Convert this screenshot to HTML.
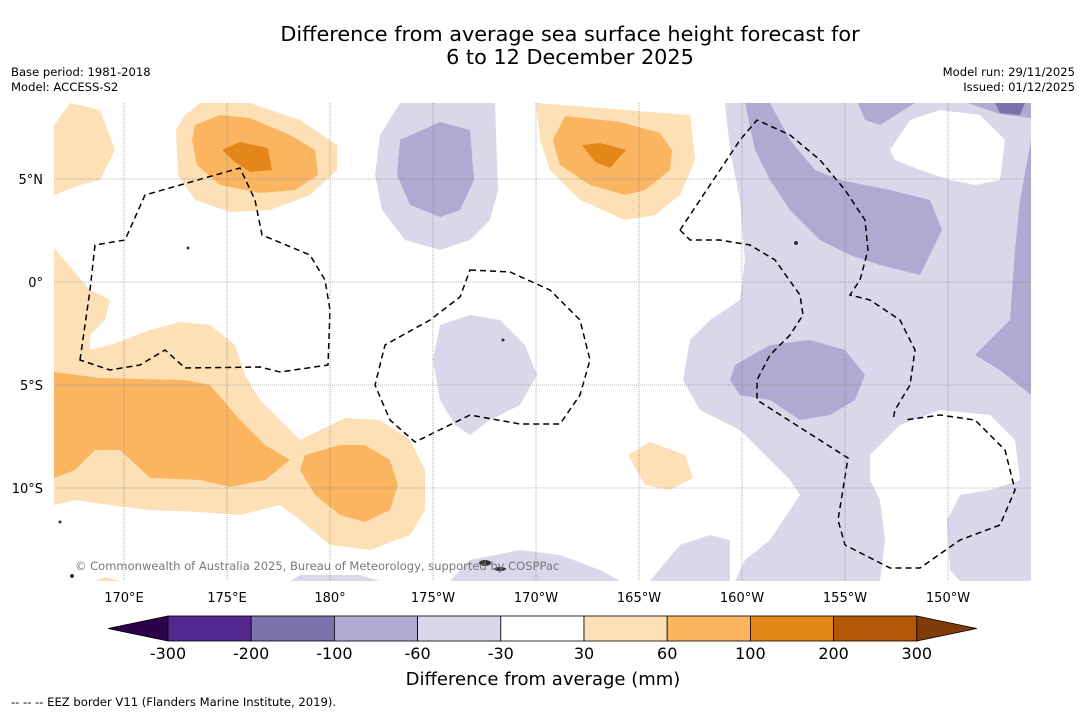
<!DOCTYPE html>
<html><head><meta charset="utf-8"><style>
body{margin:0;background:#fff;font-family:"Liberation Sans","DejaVu Sans",sans-serif}
svg text{font-family:"DejaVu Sans","Liberation Sans",sans-serif}
</style></head><body>
<svg id="c" width="1085" height="713" viewBox="0 0 1085 713">
<rect width="1085" height="713" fill="#fff"/>
<text x="570" y="41" font-size="20.8" text-anchor="middle">Difference from average sea surface height forecast for</text>
<text x="570" y="64" font-size="20.8" text-anchor="middle">6 to 12 December 2025</text>
<text x="11" y="76" font-size="11.6">Base period: 1981-2018</text>
<text x="11" y="91" font-size="11.6">Model: ACCESS-S2</text>
<text x="1075" y="76" font-size="11.6" text-anchor="end">Model run: 29/11/2025</text>
<text x="1075" y="91" font-size="11.6" text-anchor="end">Issued: 01/12/2025</text>
<g id="map">
<clipPath id="cp"><rect x="54" y="103" width="977" height="478"/></clipPath>
<g clip-path="url(#cp)">
<g fill="#d8d8ea">
<path d="M400,103 L495,103 L498,190 L490,220 L470,240 L440,250 L405,240 L382,210 L375,175 L380,135Z"/>
<path d="M440,325 L470,315 L500,320 L525,345 L537,375 L520,405 L490,420 L470,435 L455,425 L440,400 L433,360Z"/>
<path d="M725,103 L1031,103 L1031,581 L735,581 L745,560 L770,540 L790,510 L800,495 L790,480 L770,460 L740,430 L700,410 L683,380 L690,340 L710,320 L740,300 L745,260 L740,200 L730,150Z"/>
<path d="M650,581 L680,545 L710,535 L730,540 L730,581Z"/>
<path d="M290,581 L300,575 L360,575 L380,581Z"/>
<path d="M450,581 L470,560 L520,550 L560,555 L600,570 L620,581Z"/>
</g>
<g fill="#fff">
<path d="M890,150 L910,120 L940,110 L980,115 L1005,140 L1000,180 L975,185 L950,180 L920,170 L895,160Z"/>
<path d="M870,455 L900,425 L940,410 L990,415 L1015,440 L1020,480 L990,490 L960,495 L947,520 L950,570 L960,581 L880,581 L885,540 L880,500 L870,480Z"/>
</g>
<g fill="#b0aad2">
<path d="M400,140 L440,122 L470,130 L474,180 L460,210 L440,217 L410,205 L397,175Z"/>
<path d="M745,103 L770,103 L790,140 L815,170 L840,180 L890,190 L930,200 L942,230 L920,275 L880,265 L850,255 L820,240 L790,210 L770,180 L755,150Z"/>
<path d="M858,103 L915,103 L880,125 L865,120Z"/>
<path d="M1031,140 L1020,200 L1015,250 L1010,320 L990,340 L975,355 L1000,370 L1031,395Z"/>
<path d="M968,103 L1031,103 L1031,118 L1000,114Z"/>
<path d="M735,365 L770,345 L810,340 L845,350 L865,375 L855,400 L830,415 L800,420 L770,400 L740,395 L730,380Z"/>
</g>
<path d="M995,103 L1025,103 L1020,115 L1000,113Z" fill="#7d72ab"/>
<g fill="#fde0b6">
<path d="M54,195 L54,125 L70,103 L100,110 L115,150 L100,180 L80,185Z"/>
<path d="M200,103 L250,103 L300,120 L337,145 L337,170 L310,195 L270,210 L230,212 L195,200 L178,175 L176,130 L185,115Z"/>
<path d="M54,248 L90,290 L110,300 L105,320 L90,335 L90,350 L110,345 L150,330 L180,322 L210,325 L235,345 L245,375 L260,400 L300,440 L345,418 L380,420 L410,440 L425,470 L425,510 L410,535 L370,550 L330,545 L300,520 L280,505 L240,515 L200,512 L150,510 L110,505 L75,500 L54,505Z"/>
<path d="M536,103 L690,115 L695,160 L680,195 L655,215 L625,220 L580,200 L550,170 L540,140Z"/>
<path d="M628,455 L650,442 L685,455 L693,478 L670,490 L645,485Z"/>
<path d="M95,581 L105,577 L120,581Z"/>
</g>
<g fill="#fbb560">
<path d="M195,125 L220,115 L250,118 L290,135 L315,150 L318,175 L295,190 L260,193 L220,185 L197,165 L192,140Z"/>
<path d="M54,372 L100,378 L185,380 L210,385 L240,420 L265,445 L290,460 L265,480 L230,487 L200,480 L150,478 L120,450 L95,450 L75,470 L54,478Z"/>
<path d="M305,455 L340,445 L365,445 L390,460 L398,485 L390,510 L365,522 L340,515 L315,495 L300,470Z"/>
<path d="M565,116 L620,122 L660,133 L672,150 L670,170 L645,190 L625,195 L590,185 L560,165 L553,140Z"/>
</g>
<g fill="#e5861a">
<path d="M222,150 L240,142 L268,148 L272,170 L250,172 L235,162Z"/>
<path d="M582,145 L600,143 L626,150 L610,168 L595,162Z"/>
</g>
<g fill="none" stroke="#000" stroke-width="1.5" stroke-dasharray="6,4">
<path d="M80,360 L90,290 L95,245 L125,240 L145,195 L240,168 L255,200 L262,235 L310,255 L325,280 L330,310 L328,365 L280,372 L260,367 L185,368 L165,350 L140,365 L110,370 Z"/>
<path d="M470,270 L510,272 L550,290 L580,320 L590,360 L580,395 L560,424 L520,424 L470,415 L415,442 L390,420 L375,385 L385,345 L430,320 L460,297 Z"/>
<path d="M680,230 L700,200 L720,170 L740,140 L757,120 L790,135 L820,160 L845,190 L865,220 L868,250 L860,280 L850,295 L870,300 L900,320 L915,350 L910,385 L895,410 L893,420"/>
<path d="M680,230 L690,240 L720,240 L750,245 L775,260 L800,295 L803,315 L790,335 L770,355 L757,380 L757,400 L848,458 L838,520 L845,545 L890,568 L920,568 L960,540 L1000,525 L1015,490 L1005,450 L975,420 L940,415 L905,420"/>
</g>
<g fill="#333">
<ellipse cx="485" cy="563" rx="6" ry="3"/><ellipse cx="500" cy="569" rx="6" ry="2"/><circle cx="72" cy="576" r="2"/><circle cx="60" cy="522" r="1.5"/><circle cx="796" cy="243" r="2"/><circle cx="188" cy="248" r="1.5"/><circle cx="503" cy="340" r="1.5"/>
</g>
</g>
<g id="grid" stroke="#777" stroke-width="0.6" stroke-dasharray="1,1"></g>
<text x="75" y="570" font-size="11.5" fill="#777">© Commonwealth of Australia 2025, Bureau of Meteorology, supported by COSPPac</text>
</g>
<g id="axes"></g>
<g id="cbar"></g>
<text x="543" y="685" font-size="18" text-anchor="middle">Difference from average (mm)</text>
<text x="11" y="706" font-size="11.6">--  --  -- EEZ border V11 (Flanders Marine Institute, 2019).</text>
</svg>
<script>
const lonTicks=[170,175,180,185,190,195,200,205,210];
const lonLabels=["170°E","175°E","180°","175°W","170°W","165°W","160°W","155°W","150°W"];
const latTicks=[5,0,-5,-10];
const latLabels=["5°N","0°","5°S","10°S"];
const levels=[-300,-200,-100,-60,-30,30,60,100,200,300];
const levelColors=["#54278f","#7d72ab","#b0aad2","#d8d8ea","#ffffff","#fde0b6","#fbb560","#e5861a","#b35806"];
const NS="http://www.w3.org/2000/svg";
const xLon=l=>124+(l-170)*20.6;
const yLat=l=>282-l*20.6;
const svg=document.getElementById('c'),grid=document.getElementById('grid'),axes=document.getElementById('axes'),cb=document.getElementById('cbar');
function mk(t,a,p){const e=document.createElementNS(NS,t);for(const k in a)e.setAttribute(k,a[k]);p.appendChild(e);return e;}
lonTicks.forEach((l,i)=>{const x=xLon(l);
const g=mk('line',{x1:x,x2:x,y1:103,y2:581},grid);


const t=mk('text',{x:x,y:602,'font-size':13,'text-anchor':'middle'},axes);t.textContent=lonLabels[i];

});
latTicks.forEach((l,i)=>{const y=yLat(l);
const g=mk('line',{x1:54,x2:1031,y1:y,y2:y},grid);


const t=mk('text',{x:43,y:y+5,'font-size':13,'text-anchor':'end'},axes);t.textContent=latLabels[i];

});
const x0=168,w=83.2,y0=616,h=25;
const lt=mk('polygon',{points:`108,${y0+h/2} ${x0},${y0} ${x0},${y0+h}`,fill:'#2d004b',stroke:'#000','stroke-width':0.8},cb);


levelColors.forEach((c,i)=>{const r=mk('rect',{x:x0+i*w,y:y0,width:w,height:h,fill:c,stroke:'#000','stroke-width':0.8},cb);

});
const xe=x0+levelColors.length*w;
const rt=mk('polygon',{points:`${xe},${y0} ${xe+60},${y0+h/2} ${xe},${y0+h}`,fill:'#7f3b08',stroke:'#000','stroke-width':0.8},cb);


levels.forEach((v,i)=>{const t=mk('text',{x:x0+i*w,y:659,'font-size':16,'text-anchor':'middle'},cb);t.textContent=v;

});
</script>
</body></html>
